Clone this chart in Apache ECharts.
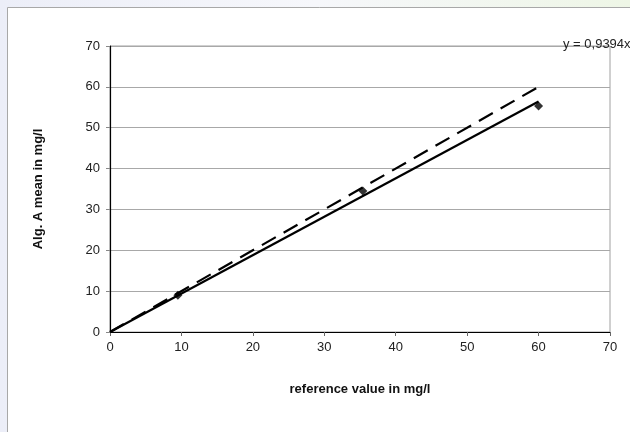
<!DOCTYPE html>
<html>
<head>
<meta charset="utf-8">
<script src="https://cdn.jsdelivr.net/npm/echarts@6/dist/echarts.min.js"></script>
<style>
html, body { margin: 0; padding: 0; }
#chart { width: 630px; height: 432px; }
</style>
</head>
<body>
<div id="chart"></div>
<script>
// measured points: reference value vs Alg. A mean
var refValues = [9.5, 35.4, 60];
var algMeans = [9, 34.5, 55.3];
// trend line y = 0,9394x and the ideal line y = x, from 0 to 60
var fitLine = [[0, 0], [60, 56.4]];
var idealLine = [[0, 0], [60, 60]];
var xTicks = [0, 10, 20, 30, 40, 50, 60, 70];
var yTicks = [0, 10, 20, 30, 40, 50, 60, 70];
var trendLabel = 'y = 0,9394x';

var pts = [];
for (var i = 0; i < refValues.length; i++) {
	pts.push([refValues[i], algMeans[i]]);
}

var myChart = echarts.init(document.getElementById('chart'));
var font = 'Liberation Sans, Arial, sans-serif';
var option = {
	animation : false,
	backgroundColor : {
		type : 'linear', x : 0, y : 0, x2 : 1, y2 : 0,
		colorStops : [
			{ offset : 0, color : '#eceef8' },
			{ offset : 0.5, color : '#f6f7fb' },
			{ offset : 1, color : '#eef6e6' }
		]
	},
	graphic : [ {
		type : 'rect',
		z : -10,
		shape : { x : 7.5, y : 7.5, width : 640, height : 440 },
		style : { fill : '#ffffff', stroke : '#a8a8a8', lineWidth : 1 }
	}, {
		type : 'text',
		z : 10,
		left : 563,
		top : 38,
		style : {
			text : trendLabel,
			fill : '#222',
			font : '13px ' + font
		}
	} ],
	grid : {
		left : 110,
		right : 20,
		top : 46,
		bottom : 100,
		show : true,
		backgroundColor : '#ffffff',
		borderColor : '#a0a0a0',
		borderWidth : 1
	},
	xAxis : {
		type : 'value',
		min : 0,
		max : 70,
		interval : 10,
		name : 'reference value in mg/l',
		nameLocation : 'middle',
		nameGap : 51,
		nameTextStyle : { fontFamily : font, fontSize : 13, fontWeight : 'bold', color : '#111' },
		axisLine : { lineStyle : { color : '#000', width : 1.2 } },
		axisTick : { show : true, length : 4, inside : false, lineStyle : { color : '#666' } },
		axisLabel : {
			fontFamily : font, fontSize : 13, color : '#222', margin : 9,
			formatter : function (v) { return xTicks.indexOf(v) >= 0 ? String(v) : ''; }
		},
		splitLine : { show : false }
	},
	yAxis : {
		type : 'value',
		min : 0,
		max : 70,
		interval : 10,
		name : 'Alg. A mean in mg/l',
		nameLocation : 'middle',
		nameGap : 65,
		nameTextStyle : { fontFamily : font, fontSize : 13, fontWeight : 'bold', color : '#111' },
		axisLine : { show : true, lineStyle : { color : '#000', width : 1.2 } },
		axisTick : { show : true, length : 4, inside : false, lineStyle : { color : '#888' } },
		axisLabel : {
			fontFamily : font, fontSize : 13, color : '#222', margin : 10,
			formatter : function (v) { return yTicks.indexOf(v) >= 0 ? String(v) : ''; }
		},
		splitLine : { show : true, lineStyle : { color : '#a8a8a8', width : 1 } }
	},
	series : [ {
		name : 'ideal',
		type : 'line',
		data : idealLine,
		symbol : 'none',
		lineStyle : { color : '#000', width : 2.2, type : [16, 9] },
		z : 3
	}, {
		name : 'fit',
		type : 'line',
		data : fitLine,
		symbol : 'none',
		lineStyle : { color : '#000', width : 2.2 },
		z : 3
	}, {
		name : 'Alg. A',
		type : 'scatter',
		data : pts,
		symbol : 'diamond',
		symbolSize : 9,
		itemStyle : { color : '#000' },
		z : 4
	} ]
};
myChart.setOption(option, true);
</script>
</body>
</html>
